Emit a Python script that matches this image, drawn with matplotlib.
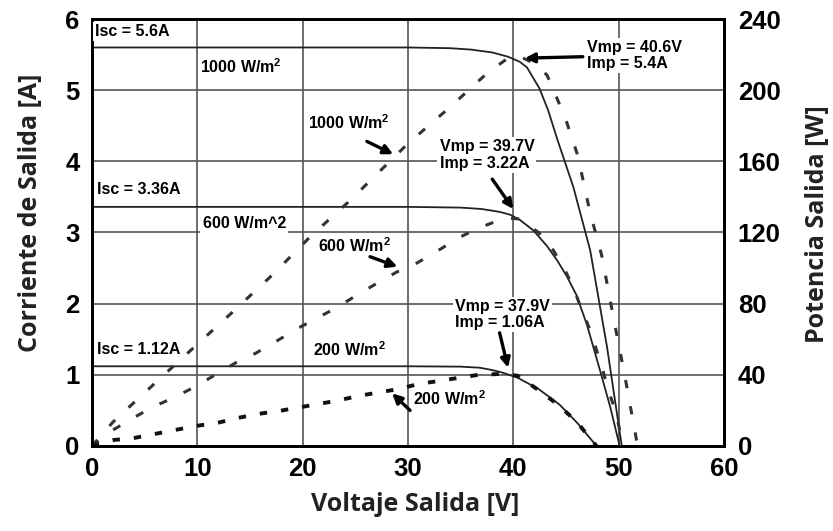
import numpy as np
import matplotlib
matplotlib.use("Agg")
import matplotlib.pyplot as plt

plt.rcParams['mathtext.fontset'] = 'custom'
plt.rcParams['mathtext.rm'] = 'Liberation Sans'
plt.rcParams['mathtext.bf'] = 'Liberation Sans:bold'

# I-V curves (solid), voltage [V] / current [A]
iv1000_v = [0, 30, 34, 36, 38, 39.5, 40.6, 41.3, 42.5, 43.3, 44.2, 45.7, 47.3, 48.9, 50.3]
iv1000_i = [5.6, 5.6, 5.59, 5.57, 5.53, 5.47, 5.4, 5.32, 5.02, 4.72, 4.3, 3.64, 2.75, 1.39, 0]

iv600_v = [0, 30, 35, 37, 38.7, 39.7, 40.6, 41.9, 43.2, 44.2, 45.1, 46.0, 47.0, 48.2, 49.2, 50.1]
iv600_i = [3.36, 3.36, 3.35, 3.33, 3.29, 3.25, 3.18, 3.03, 2.81, 2.6, 2.38, 2.12, 1.7, 1.08, 0.55, 0]

iv200_v = [0, 30, 35, 36.8, 37.9, 39.0, 40.4, 42.4, 44.4, 46.1, 47.9]
iv200_i = [1.12, 1.12, 1.115, 1.1, 1.07, 1.03, 0.96, 0.8, 0.58, 0.32, 0]

# power curves (dashed), voltage [V] / power [W]
p1000_v = [0, 2, 5.8, 9.6, 13.3, 17.1, 20.7, 24.5, 30, 34, 37.6, 39.5, 40.6, 42, 43.2, 44.9,
           46.1, 47.3, 48.4, 49.5, 50.6, 51.8]
p1000_w = [0, 13.5, 34.3, 55, 75, 96, 117.5, 138, 170, 190.5, 210, 218, 219, 215, 208.5, 185,
           163.6, 131, 107, 72.5, 39, 0]

p600_v = [0, 2, 3.9, 5.8, 7.9, 10, 11.7, 13.6, 15.5, 17.4, 19.5, 21.4, 23.3, 25.2, 27.1, 29,
          30.9, 32.9, 34.8, 36.7, 38.7, 39.7, 40.6, 42.4, 43.8, 44.9, 45.7, 46.5, 47.3, 47.9,
          48.5, 49.0, 49.7, 50.1, 50.4]
p600_w = [0, 9, 15.7, 22, 27.5, 34, 40, 46.6, 52, 58.5, 66, 72, 78, 85, 91.6, 98,
          103, 110, 117, 122.5, 127, 128, 127.6, 120, 110, 99, 89, 76.5, 65, 54,
          42.7, 31.5, 20, 9, 0]

p200_v = [0, 2.1, 4, 6, 7.9, 9.8, 11.9, 13.8, 15.7, 17.6, 19.5, 21.4, 23.3, 25.2, 27.1, 29.1,
          31.1, 32.9, 34.8, 36.7, 38.9, 40.4, 42.5, 44.4, 46.1, 47.9]
p200_w = [0, 3.4, 4.5, 6.8, 9, 11.2, 13, 15.7, 18, 19.5, 21.5, 23.5, 25.5, 28, 30, 32,
          35, 36.5, 38.3, 40, 40.5, 39.5, 31, 22.5, 13, 0]

xticks = [0, 10, 20, 30, 40, 50, 60]
yticks_left = [0, 1, 2, 3, 4, 5, 6]
yticks_right = [0, 40, 80, 120, 160, 200, 240]

fig = plt.figure(figsize=(8.33, 5.31), dpi=100)
ax = fig.add_axes([0.1104, 0.1601, 0.7587, 0.8041])
ax2 = ax.twinx()

ax.set_xlim(0, 60)
ax.set_ylim(0, 6)
ax2.set_ylim(0, 240)
ax.set_xticks(xticks)
ax.set_yticks(yticks_left)
ax2.set_yticks(yticks_right)
ax.grid(True, color='#555555', lw=1.2)
ax.set_axisbelow(True)

tickfont = dict(family='Liberation Sans', weight='bold', size=18.5)
ax.set_xticklabels([str(t) for t in xticks], fontdict=tickfont)
ax.set_yticklabels([str(t) for t in yticks_left], fontdict=tickfont)
ax2.set_yticklabels([str(t) for t in yticks_right], fontdict=tickfont)
ax.tick_params(axis='x', length=0, pad=8)
ax.tick_params(axis='y', length=0, pad=9)
ax2.tick_params(axis='y', length=0, pad=10)
for a in (ax, ax2):
    for s in a.spines.values():
        s.set_linewidth(2)
        s.set_color('black')

ax.plot(iv1000_v, iv1000_i, color='#222222', lw=1.3, zorder=3)
ax.plot(iv600_v, iv600_i, color='#222222', lw=1.3, zorder=3)
ax.plot(iv200_v, iv200_i, color='#222222', lw=1.3, zorder=3)

ax2.plot(p1000_v, p1000_w, color='#333333', lw=2.2, ls=(0, (2.7, 6.0)))
ax2.plot(p600_v, p600_w, color='#333333', lw=2.2, ls=(0, (2.7, 6.0)))
ax2.plot(p200_v, p200_w, color='#111111', lw=2.8, ls=(0, (1.9, 3.6)))

labfont = dict(family='Open Sans', weight='bold', size=18, color='#222222')
ax.set_ylabel('Corriente de Salida [A]', va='center', **labfont)
ax.yaxis.set_label_coords(-0.097, 0.545)
ax2.set_ylabel('Potencia Salida [W]', rotation=90, va='center', **labfont)
ax2.yaxis.set_label_coords(1.148, 0.52)
ax.set_xlabel('Voltaje Salida [V]', va='center', **labfont)
ax.xaxis.set_label_coords(0.511, -0.138)

# text annotations are drawn on the twin axes so they sit above all curves
tf = dict(family='Liberation Sans', weight='bold', size=11.5, va='center', ha='left',
          zorder=10, bbox=dict(facecolor='white', edgecolor='none', pad=1.5))
arr = dict(arrowstyle='-|>', color='black', lw=2.4, mutation_scale=14, shrinkA=0, shrinkB=0)

def txt(v, i, s, **kw):
    ax2.text(v, i * 40, s, **tf, **kw)

def arrow(v0, i0, v1, i1):
    ax2.annotate('', xy=(v1, i1 * 40), xytext=(v0, i0 * 40), arrowprops=arr, zorder=11)

txt(0.3, 5.82, 'Isc = 5.6A')
txt(10.3, 5.33, r'1000 W/m$^{\mathbf{2}}$')
txt(20.5, 4.55, r'1000 W/m$^{\mathbf{2}}$')
arrow(26.1, 4.28, 28.6, 4.1)
txt(0.5, 3.6, 'Isc = 3.36A')
txt(10.5, 3.13, '600 W/m^2')
txt(21.5, 2.82, r'600 W/m$^{\mathbf{2}}$')
arrow(26.4, 2.66, 29.0, 2.52)
txt(0.5, 1.36, 'Isc = 1.12A')
txt(21.0, 1.36, r'200 W/m$^{\mathbf{2}}$')
txt(30.5, 0.66, r'200 W/m$^{\mathbf{2}}$')
arrow(30.2, 0.5, 28.5, 0.74)
txt(47.0, 5.49, 'Vmp = 40.6V\nImp = 5.4A', linespacing=1.1)
arrow(46.6, 5.47, 41.1, 5.45)
txt(33.0, 4.09, 'Vmp = 39.7V\nImp = 3.22A', linespacing=1.1)
arrow(38.0, 3.75, 40.0, 3.33)
txt(34.5, 1.85, 'Vmp = 37.9V\nImp = 1.06A', linespacing=1.1)
arrow(38.7, 1.59, 39.5, 1.1)

fig.savefig('out.png', dpi=100)
